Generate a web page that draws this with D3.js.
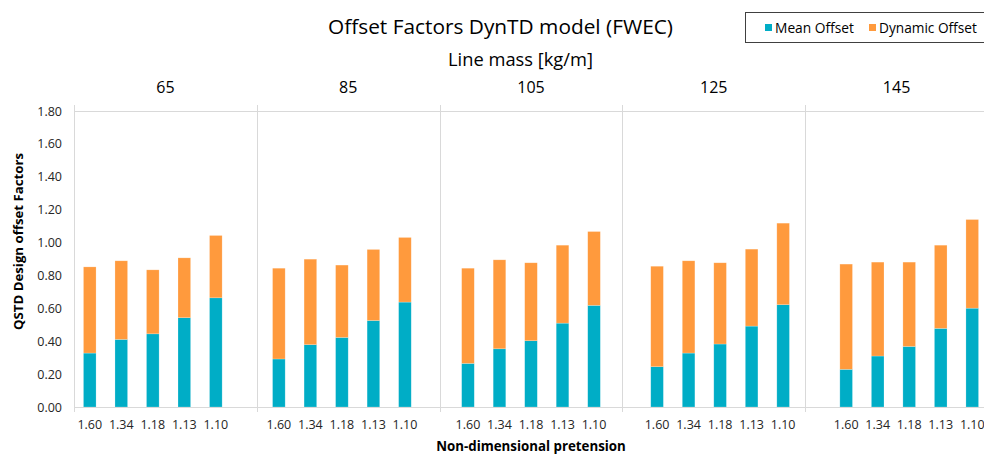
<!DOCTYPE html>
<html>
<head>
<meta charset="utf-8">
<script src="https://cdn.jsdelivr.net/npm/d3@7"></script>
<style>
  html, body { margin: 0; padding: 0; background: #fff; }
  svg { display: block; font-family: "Open Sans", "Noto Sans", sans-serif; }
</style>
</head>
<body>
<svg id="chart" width="984" height="454"></svg>
<script>
// ---- data ----
const lineMasses = ["65", "85", "105", "125", "145"];
const pretensions = ["1.60", "1.34", "1.18", "1.13", "1.10"];
const meanOffset = [
  [0.328, 0.411, 0.445, 0.543, 0.664],
  [0.292, 0.379, 0.423, 0.526, 0.638],
  [0.265, 0.354, 0.403, 0.510, 0.618],
  [0.245, 0.328, 0.383, 0.492, 0.622],
  [0.229, 0.310, 0.368, 0.478, 0.601]
];
const totalOffset = [
  [0.852, 0.889, 0.834, 0.907, 1.043],
  [0.844, 0.899, 0.863, 0.958, 1.031],
  [0.844, 0.895, 0.877, 0.984, 1.067],
  [0.856, 0.889, 0.877, 0.960, 1.118],
  [0.869, 0.881, 0.881, 0.984, 1.140]
];
const dynamicOffset = totalOffset.map((row, g) => row.map((t, i) => +(t - meanOffset[g][i]).toFixed(3)));
const yTicks = [0, 0.2, 0.4, 0.6, 0.8, 1.0, 1.2, 1.4, 1.6, 1.8];
const seriesNames = ["Mean Offset", "Dynamic Offset"];
const colors = ["#00ADC6", "#FF9A3D"];

// ---- layout ----
const svg = d3.select("#chart");
const L = 74, R = 988, T = 111, B = 407;
const gridColor = "#d9d9d9";

// slots: 5 bars per group, one blank slot between groups
const slots = [];
lineMasses.forEach((m, g) => {
  pretensions.forEach((p, i) => slots.push({key: g + "-" + i, label: p, g, i}));
  if (g < lineMasses.length - 1) slots.push({key: "blank" + g, label: "", g: -1, i: -1});
});
const x = d3.scaleBand().domain(slots.map(s => s.key)).range([L, R]).paddingInner(0.6).paddingOuter(0.3);
const xg = d3.scaleLinear().domain([0, lineMasses.length]).range([L, R]);
const y = d3.scaleLinear().domain([0, 1.8]).range([B, T]);

// top gridline & bottom axis line
svg.append("line").attr("x1", L).attr("x2", R).attr("y1", y(1.8)).attr("y2", y(1.8))
  .attr("stroke", gridColor).attr("stroke-width", 1).attr("shape-rendering", "crispEdges");
// group dividers
svg.append("g").selectAll("line").data(d3.range(lineMasses.length + 1)).join("line")
  .attr("x1", d => Math.round(xg(d)) + 0.5).attr("x2", d => Math.round(xg(d)) + 0.5)
  .attr("y1", T - 6).attr("y2", B + 5)
  .attr("stroke", gridColor).attr("stroke-width", 1);

// stacked bars
const stackData = slots.filter(s => s.g >= 0).map(s => ({
  key: s.key, mean: meanOffset[s.g][s.i], dyn: dynamicOffset[s.g][s.i]
}));
const stack = d3.stack().keys(["mean", "dyn"])(stackData);
svg.append("g").selectAll("g").data(stack).join("g")
  .attr("fill", (d, k) => colors[k])
  .selectAll("rect").data(d => d).join("rect")
  .attr("x", d => x(d.data.key))
  .attr("width", x.bandwidth())
  .attr("y", d => y(d[1]))
  .attr("height", d => y(d[0]) - y(d[1]))
  .attr("stroke", "#ffffff").attr("stroke-opacity", 0.35).attr("stroke-width", 0.6);

svg.append("line").attr("x1", L).attr("x2", R).attr("y1", B + 0.5).attr("y2", B + 0.5)
  .attr("stroke", gridColor).attr("stroke-width", 1);

// x axis (pretension labels)
const xAxis = svg.append("g").attr("transform", `translate(0,${B})`)
  .call(d3.axisBottom(x).tickSize(0).tickPadding(13)
    .tickFormat(k => slots.find(s => s.key === k).label));
xAxis.select(".domain").remove();
xAxis.selectAll("text").attr("font-size", 12.5).attr("fill", "#262626")
  .attr("font-family", "'Open Sans', sans-serif");

// y axis
const yAxis = svg.append("g").attr("transform", `translate(${L},0)`)
  .call(d3.axisLeft(y).tickValues(yTicks).tickSize(0).tickPadding(12).tickFormat(d3.format(".2f")));
yAxis.select(".domain").remove();
yAxis.selectAll("text").attr("font-size", 12.5).attr("fill", "#262626")
  .attr("font-family", "'Open Sans', sans-serif");

// helper to fit text width
function fit(sel, target) {
  const n = sel.node();
  const w = n.getComputedTextLength();
  const fs = parseFloat(sel.attr("font-size"));
  sel.attr("font-size", fs * target / w);
  return sel;
}

// group labels (line mass)
svg.append("g").selectAll("text").data(lineMasses).join("text")
  .attr("x", (d, g) => xg(g + 0.5)).attr("y", 93)
  .attr("text-anchor", "middle").attr("font-size", 16).attr("fill", "#000")
  .text(d => d);

// title
fit(svg.append("text").attr("x", 500.5).attr("y", 34).attr("text-anchor", "middle")
  .attr("font-size", 20).attr("fill", "#000").text("Offset Factors DynTD model (FWEC)"), 345);
fit(svg.append("text").attr("x", 520.5).attr("y", 66).attr("text-anchor", "middle")
  .attr("font-size", 15).attr("fill", "#000").text("Line mass [kg/m]"), 145);

// axis titles
fit(svg.append("text").attr("transform", "translate(23,241.5) rotate(-90)")
  .attr("text-anchor", "middle").attr("font-weight", "bold").attr("font-size", 13)
  .attr("fill", "#000").text("QSTD Design offset Factors"), 177);
fit(svg.append("text").attr("x", (L + R) / 2).attr("y", 451)
  .attr("text-anchor", "middle").attr("font-weight", "bold").attr("font-size", 13)
  .attr("fill", "#000").text("Non-dimensional pretension"), 190);

// legend
svg.append("rect").attr("x", 745.5).attr("y", 12.5).attr("width", 260).attr("height", 30)
  .attr("fill", "#fff").attr("stroke", "#404040").attr("stroke-width", 1);
const legX = [765, 869];
const legW = [79, 98];
seriesNames.forEach((name, k) => {
  svg.append("rect").attr("x", legX[k]).attr("y", 24).attr("width", 7).attr("height", 7).attr("fill", colors[k]);
  fit(svg.append("text").attr("x", legX[k] + 10).attr("y", 32.5).attr("font-size", 13.5)
    .attr("fill", "#000").text(name), legW[k]);
});
</script>
</body>
</html>
